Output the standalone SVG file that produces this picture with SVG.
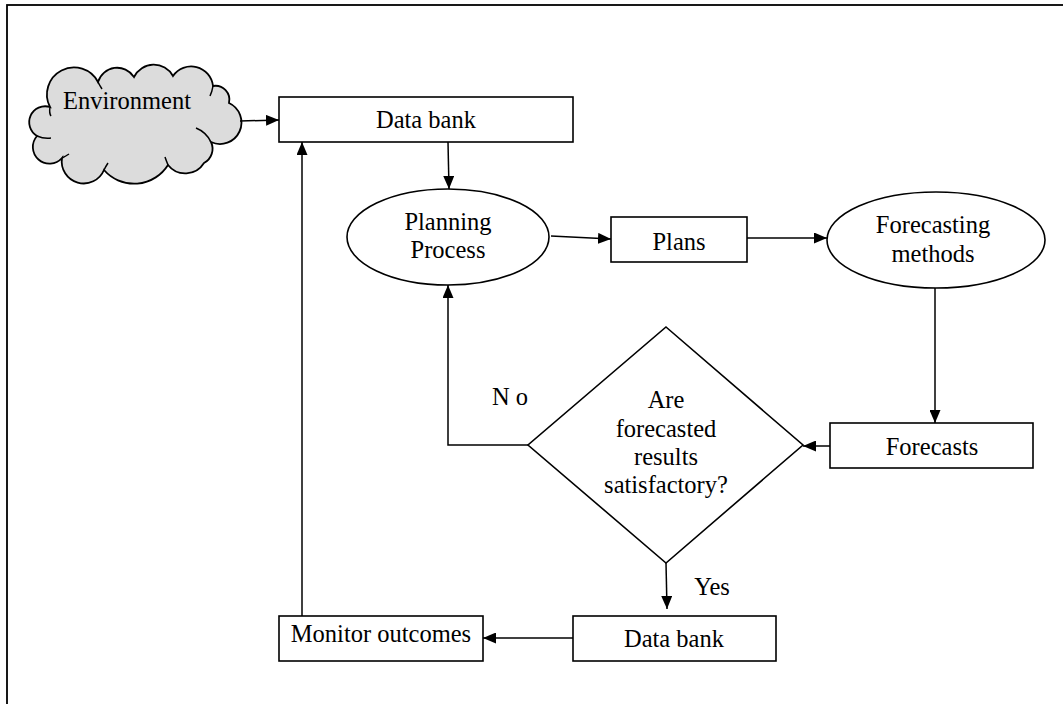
<svg xmlns="http://www.w3.org/2000/svg" width="1063" height="704" viewBox="0 0 1063 704">
  <defs>
    <marker id="arrow" viewBox="0 0 13 11" refX="13" refY="5.5" markerWidth="13" markerHeight="11" markerUnits="userSpaceOnUse" orient="auto">
      <path d="M0,0 L13,5.5 L0,11 Z" fill="#000"/>
    </marker>
    <style>
      .box { fill: #fff; stroke: #000; stroke-width: 1.6; }
      .lbl { font-family: "Liberation Serif", "Times New Roman", serif; font-size: 24.5px; fill: #000; text-anchor: middle; }
      .edge { fill: none; stroke: #000; stroke-width: 1.5; }
      .arr { marker-end: url(#arrow); }
    </style>
  </defs>
  <rect width="1063" height="704" fill="#fff"/>
  <!-- outer frame -->
  <rect x="7" y="5" width="1070" height="710" fill="none" stroke="#000" stroke-width="1.8"/>

  <g id="environment">
    <path d="M50,107 A24,24 0 0 1 98,82 A20,20 0 0 1 134,77 A22,22 0 0 1 173,76 A22,22 0 0 1 213,86 A14,14 0 0 1 229,103 A20,20 0 0 1 211,142 A16,16 0 0 1 204,163 A22,22 0 0 1 168,165 A40,40 0 0 1 104,170 A22,22 0 0 1 62,158 A14,14 0 0 1 37,136 A16,16 0 0 1 50,107 Z" fill="#dcdcdc" stroke="#000" stroke-width="1.8"/>
    <path d="M50,107 Q49,113 51,116 M98,82 Q100,86 102,89 M213,86 Q212,92 210,96 M211,142 Q206,132 196,128 M168,165 Q166,160 165,157 M104,170 Q106,166 108,163 M62,158 Q66,156 69,154 M37,136 Q44,139 51,138" fill="none" stroke="#000" stroke-width="1.5"/>
    <text class="lbl" x="127" y="109">Environment</text>
  </g>

  <g id="data-bank-top">
    <rect class="box" x="279" y="97" width="294" height="45"/>
    <text class="lbl" x="426" y="128">Data bank</text>
  </g>

  <g id="planning-process">
    <ellipse class="box" cx="448" cy="237" rx="101" ry="48"/>
    <text class="lbl" x="448" y="230">Planning</text>
    <text class="lbl" x="448" y="258">Process</text>
  </g>

  <g id="plans">
    <rect class="box" x="611" y="217" width="136" height="45"/>
    <text class="lbl" x="679" y="250">Plans</text>
  </g>

  <g id="forecasting-methods">
    <ellipse class="box" cx="936" cy="240" rx="109" ry="48"/>
    <text class="lbl" x="933" y="233">Forecasting</text>
    <text class="lbl" x="933" y="262">methods</text>
  </g>

  <g id="forecasts">
    <rect class="box" x="830" y="423" width="203" height="45"/>
    <text class="lbl" x="932" y="455">Forecasts</text>
  </g>

  <g id="decision">
    <polygon class="box" points="666,327 803,445 666,563 528,445"/>
    <text class="lbl" x="666" y="408">Are</text>
    <text class="lbl" x="666" y="437">forecasted</text>
    <text class="lbl" x="666" y="465">results</text>
    <text class="lbl" x="666" y="493">satisfactory?</text>
  </g>

  <g id="data-bank-bottom">
    <rect class="box" x="573" y="616" width="203" height="45"/>
    <text class="lbl" x="674" y="647">Data bank</text>
  </g>

  <g id="monitor-outcomes">
    <rect class="box" x="279" y="616" width="204" height="45"/>
    <text class="lbl" x="381" y="642">Monitor outcomes</text>
  </g>

  <g id="connectors">
    <path class="edge arr" d="M240,121 L279,120"/>
    <path class="edge arr" d="M448,142 L449,189"/>
    <path class="edge arr" d="M551,236 L611,239"/>
    <path class="edge arr" d="M747,238 L827,238"/>
    <path class="edge arr" d="M935,288 L935,423"/>
    <path class="edge arr" d="M830,446 L803,446"/>
    <path class="edge arr" d="M528,445 L448,445 L448,285"/>
    <path class="edge arr" d="M666,563 L667,609"/>
    <path class="edge arr" d="M573,638 L483,638"/>
    <path class="edge arr" d="M302,616 L302,142"/>
    <text class="lbl" x="510" y="405">N o</text>
    <text class="lbl" x="712" y="595">Yes</text>
  </g>
</svg>
